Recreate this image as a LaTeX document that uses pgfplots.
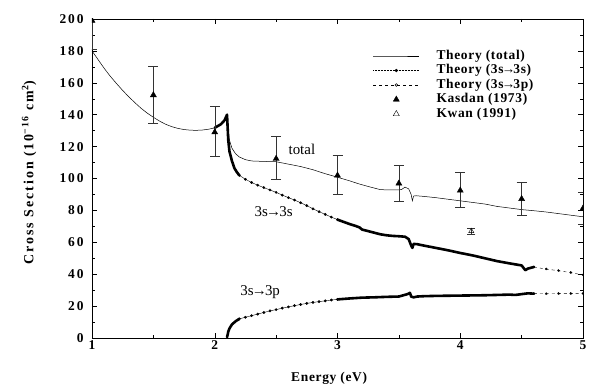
\documentclass[border=0pt]{standalone}
\usepackage{fontspec}
\setmainfont{Liberation Serif}
\newfontfamily\tickfont[LetterSpace=14]{Liberation Serif}
\newfontfamily\labfont[LetterSpace=5]{Liberation Serif}
\newfontfamily\ylabfont[LetterSpace=14]{Liberation Serif}
\newfontfamily\legfont[LetterSpace=5]{Liberation Serif}
\newcommand{\arr}{\kern-1.8bp→\kern-1.8bp}
\usepackage{pgfplots}
\pgfplotsset{compat=1.18}
\pgfplotsset{
  dense/.style={line width=2.6bp, no marks, forget plot, line join=round, line cap=round},
  dotty/.style={line width=0.4bp, mark=*, mark size=1.2bp, forget plot},
  tail/.style={line width=0.4bp, dashed, mark=*, mark size=1.2bp, forget plot},
}
\begin{document}
\begin{tikzpicture}
\begin{axis}[name=ax, scale only axis, width=491bp, height=319bp,
  xmin=1, xmax=5, ymin=0, ymax=200,
  xtick={1,2,3,4,5}, minor xtick={1.5,2.5,3.5,4.5},
  ytick={0,20,...,200}, minor ytick={10,30,...,190},
  tick align=inside, tick pos=both,
  major tick length=5bp, minor tick length=3bp,
  every tick/.style={black, line width=0.5bp},
  axis line style={line width=0.7bp},
  clip marker paths=true,
  /pgf/number format/assume math mode=true,
  ticklabel style={font=\fontsize{13.5}{15}\selectfont\tickfont\bfseries},
  yticklabel style={xshift=-5bp},
  xticklabel style={yshift=1bp},
  xlabel={Energy (eV)},
  ylabel={Cross Section (10\textsuperscript{−16} cm\textsuperscript{2})},
  xlabel style={font=\fontsize{13.5}{15}\selectfont\labfont\bfseries, at={(axis description cs:0.483,-0.125)}, anchor=center},
  ylabel style={font=\fontsize{14}{16}\selectfont\ylabfont\bfseries, at={(axis description cs:-0.128,0.519)}, anchor=center},
  legend style={at={(axis description cs:0.572,0.905)}, anchor=north west, draw=none, fill=none, inner sep=0pt,
    font=\fontsize{13.5}{15}\selectfont\legfont\bfseries,
    nodes={inner sep=1bp, text height=8.5bp, text depth=2.5bp}, row sep=1.5bp,
    /tikz/every odd column/.append style={column sep=16bp}},
  legend cell align=left,
  legend image code/.code={\draw[mark repeat=2,mark phase=2,#1] plot coordinates {(0bp,0bp)(23bp,0bp)(46bp,0bp)};},
]
\addlegendimage{line width=0.5bp}
\addlegendentry{Theory (total)}
\addlegendimage{densely dotted, line width=0.5bp, mark=*, mark size=1.4bp, mark options={solid}}
\addlegendentry{Theory (3s\arr3s)}
\addlegendimage{dashed, line width=0.5bp, mark=o, mark size=1.4bp, mark options={solid}}
\addlegendentry{Theory (3s\arr3p)}
\addlegendimage{only marks, mark=triangle*, mark size=3.5bp}
\addlegendentry{Kasdan (1973)}
\addlegendimage{only marks, mark=triangle, mark size=3.5bp}
\addlegendentry{Kwan (1991)}

% Theory total
\addplot[line width=0.5bp, black, forget plot] coordinates {
(1.00,180) (1.05,174.5) (1.10,169) (1.15,164) (1.20,159.5) (1.25,155.2) (1.30,151.2)
(1.35,147.5) (1.40,144) (1.45,141) (1.50,138.4) (1.55,136) (1.60,134) (1.65,132.5)
(1.70,131.4) (1.75,130.7) (1.80,130.3) (1.85,130.2) (1.90,130.4) (1.95,130.9) (2.00,131.8)
(2.05,134) (2.08,136.5) (2.10,140) (2.11,130) (2.12,124) (2.14,119) (2.17,115.5)
(2.20,113.5) (2.25,111.8) (2.30,111) (2.40,110.7) (2.50,110.5) (2.60,109) (2.70,107.5)
(2.80,105.5) (2.90,103) (3.00,100.8) (3.10,98.5) (3.18,96.5) (3.25,95) (3.35,93)
(3.45,92.8) (3.52,93) (3.55,94.6) (3.58,93.5) (3.60,90) (3.61,86) (3.62,89) (3.64,89.2)
(3.70,88.8) (3.80,88) (3.90,87) (4.00,86) (4.10,85) (4.20,84) (4.30,82.5) (4.40,81.5)
(4.45,81) (4.50,80.5) (4.60,79.8) (4.70,79) (4.80,78) (4.90,77) (5.00,76)
};

% Theory 3s->3s
\addplot[dense] coordinates {
(2.00,131.8) (2.05,134) (2.08,136.5) (2.10,140) (2.105,132) (2.11,124) (2.12,117)
(2.14,111) (2.16,106.5) (2.18,104) (2.20,102)
};
\addplot[dotty] coordinates {
(2.20,102) (2.25,99.5) (2.30,97.5) (2.35,95.8) (2.40,94.3) (2.45,92.8) (2.50,91.3)
(2.55,89.6) (2.60,88) (2.65,86.5) (2.70,84.8) (2.75,83) (2.80,81) (2.85,79.2)
(2.90,77.5) (2.95,75.8) (3.00,74.2)
};
\addplot[dense] coordinates {
(3.00,74.2) (3.05,72.8) (3.10,71.4) (3.15,70.2) (3.18,69.3) (3.20,68) (3.25,67)
(3.30,66) (3.35,65) (3.40,64.4) (3.45,64) (3.50,63.8) (3.55,63.5) (3.58,62) (3.60,58)
(3.61,56.5) (3.62,59) (3.65,58.8) (3.70,58) (3.80,56.5) (3.90,55) (4.00,53.3)
(4.10,51.8) (4.20,50) (4.30,48.2) (4.40,46.8) (4.50,45.5) (4.53,42.5) (4.55,43.5) (4.60,44.5)
};
\addplot[tail] coordinates {
(4.60,44.5) (4.70,43.2) (4.80,42.2) (4.90,41) (5.00,39.5)
};

% Theory 3s->3p
\addplot[dense] coordinates {
(2.10,0.5) (2.105,2) (2.11,4) (2.12,6) (2.14,8.5) (2.17,10.5) (2.20,12)
};
\addplot[dotty] coordinates {
(2.20,12) (2.25,13) (2.30,14) (2.35,15) (2.40,16) (2.45,17) (2.50,17.8) (2.55,18.7)
(2.60,19.5) (2.65,20.3) (2.70,21) (2.75,21.7) (2.80,22.3) (2.85,22.8) (2.90,23.3)
(2.95,23.8) (3.00,24.2)
};
\addplot[dense] coordinates {
(3.00,24.2) (3.10,24.8) (3.20,25.3) (3.30,25.5) (3.40,25.8) (3.50,26) (3.57,27.5)
(3.59,28.3) (3.60,26) (3.62,25.5) (3.65,26) (3.70,26.2) (3.80,26.4) (3.90,26.5)
(4.00,26.6) (4.10,26.7) (4.20,26.8) (4.30,27) (4.40,27.2) (4.45,27) (4.50,27.5)
(4.55,28) (4.60,27.8)
};
\addplot[tail] coordinates {
(4.60,27.8) (4.70,27.7) (4.80,27.8) (4.90,27.8) (5.00,27.8)
};

% Kasdan (1973)
\addplot[only marks, mark=triangle*, mark size=3.5bp, forget plot,
  error bars/.cd, y dir=both, y explicit,
  error mark options={rotate=90, mark size=5bp, line width=0.5bp, black!80},
  error bar style={line width=0.5bp, black!80}]
  table[x=x, y=y, y error plus=ep, y error minus=em] {
x y ep em
1.0 199 20 18
1.5 152.3 18.3 17.8
2.0 129 16 15
2.5 112.4 14.3 12.8
3.0 101.9 12.5 11.9
3.5 96.9 11.4 11.3
4.0 92.5 11.3 10.7
4.5 87.2 10.7 10.2
5.0 81.2 10 10
};

% Kwan (1991)
\addplot[only marks, mark=triangle, mark size=3bp, forget plot,
  error bars/.cd, y dir=both, y explicit,
  error mark options={rotate=90, mark size=4bp, line width=0.5bp, black!80},
  error bar style={line width=0.5bp, black!80}]
  table[x=x, y=y, y error plus=ep, y error minus=em] {
x y ep em
4.09 67 2 2
};

\node[font=\fontsize{15}{17}\selectfont] at (axis cs:2.71,118) {total};
\node[font=\fontsize{15}{17}\selectfont] at (axis cs:2.48,79) {3s\arr3s};
\node[font=\fontsize{15}{17}\selectfont] at (axis cs:2.37,28.5) {3s\arr3p};
\end{axis}
\pgfresetboundingbox
\path ([shift={(-92bp,-50bp)}]ax.south west) rectangle ([shift={(8bp,19bp)}]ax.north east);
\end{tikzpicture}
\end{document}
